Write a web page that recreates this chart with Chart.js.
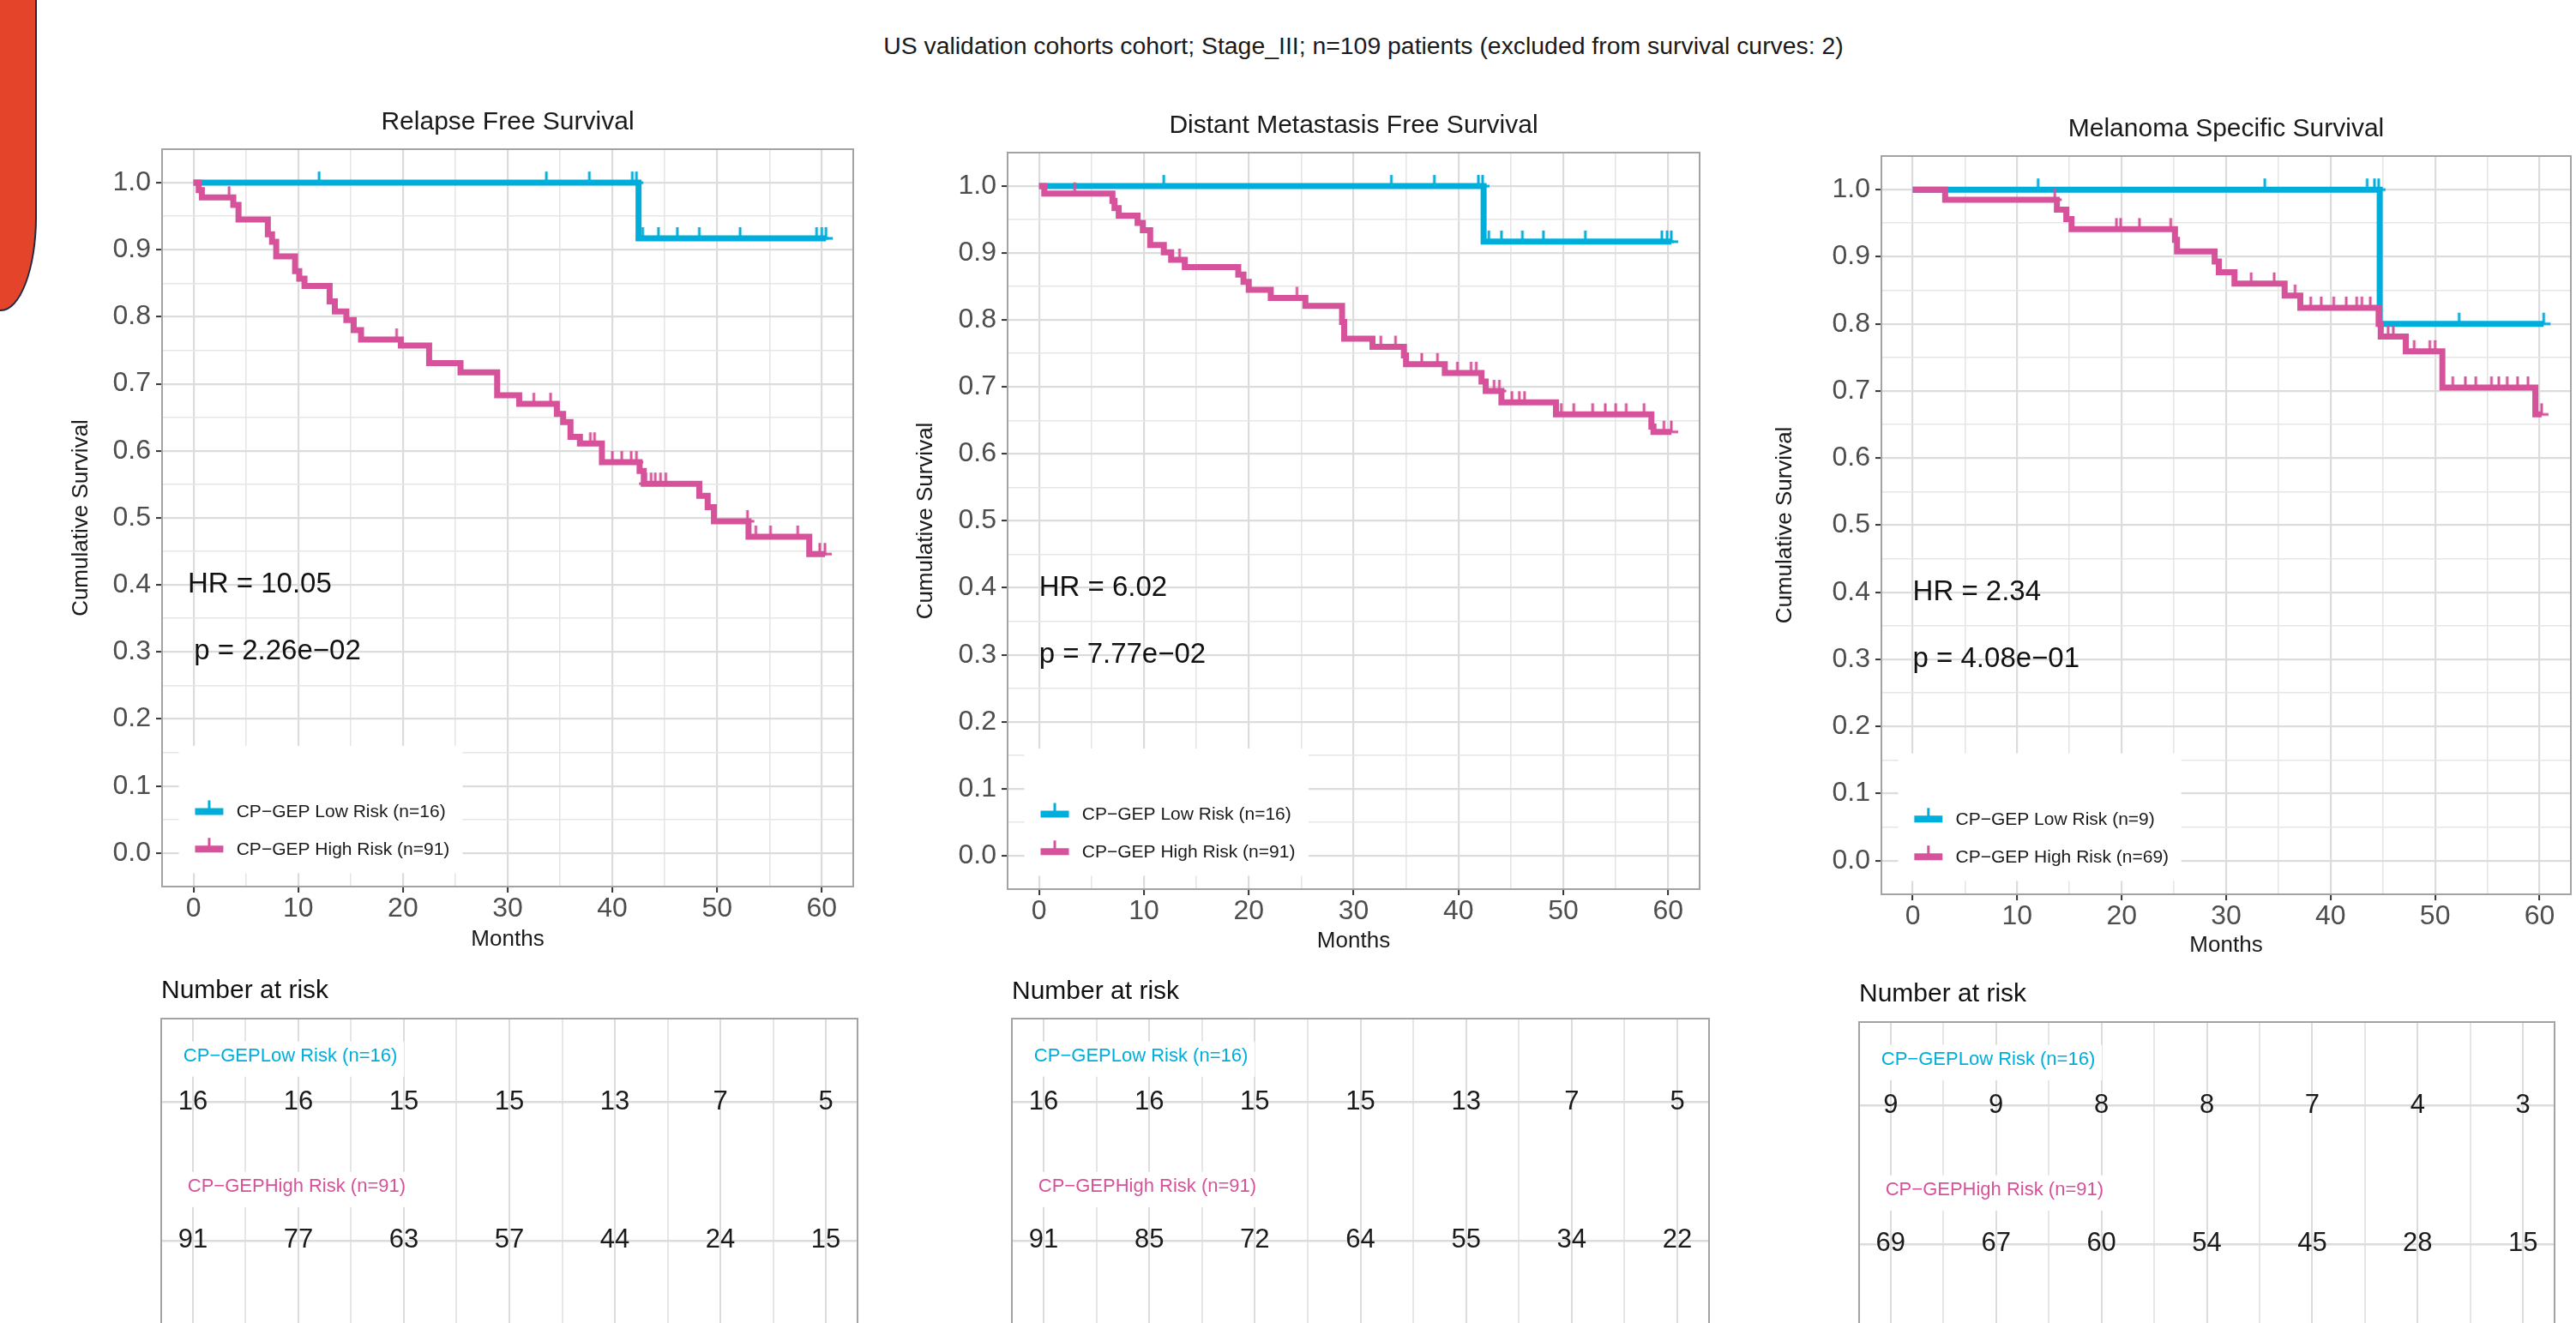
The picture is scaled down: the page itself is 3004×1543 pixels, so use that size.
<!DOCTYPE html>
<html>
<head>
<meta charset="utf-8">
<script src="https://cdn.jsdelivr.net/npm/chart.js@4.4.0/dist/chart.umd.min.js"></script>
<style>
html, body { margin:0; padding:0; background:#fff; }
body { width:3004px; height:1543px; position:relative; overflow:hidden; font-family:"Liberation Sans", Arial, sans-serif; }
canvas { position:absolute; }
#tab { position:absolute; left:0; top:0; width:41px; height:361px; background:#E4442A;
  border-right:2px solid #1E2A44; border-bottom:2px solid #1E2A44; border-bottom-right-radius:42px 110px; }
#mainTitle { position:absolute; left:990px; top:37px; width:1200px; text-align:center;
  font-size:28.4px; line-height:32px; color:#1a1a1a; white-space:nowrap; }
</style>
</head>
<body>
<div id="tab"></div>
<div id="mainTitle">US validation cohorts cohort; Stage_III; n=109 patients (excluded from survival curves: 2)</div>
<script>
// ---- data ----
var xTickLabels = ['0', '10', '20', '30', '40', '50', '60'];
var xGrid = [0, 5, 10, 15, 20, 25, 30, 35, 40, 45, 50, 55, 60];
var yTickLabels = ['0.0', '0.1', '0.2', '0.3', '0.4', '0.5', '0.6', '0.7', '0.8', '0.9', '1.0'];
var yGrid = [0, 0.05, 0.1, 0.15, 0.2, 0.25, 0.3, 0.35, 0.4, 0.45, 0.5, 0.55, 0.6, 0.65, 0.7, 0.75, 0.8, 0.85, 0.9, 0.95, 1];
var riskTimes = [0, 10, 20, 30, 40, 50, 60];

// Relapse Free Survival
var rfsLowTime = [0, 42.5, 60.4];
var rfsLowSurv = [1, 0.917, 0.917];
var rfsLowCens = [12.0, 33.7, 37.8, 41.9, 42.3, 42.9, 44.4, 46.2, 48.3, 52.2, 59.5, 60.0, 60.4];
var rfsHighTime = [0, 0.5, 0.8, 3.8, 4.3, 7.1, 7.5, 7.9, 9.7, 10.1, 10.6, 13.0, 13.5, 14.6, 15.3, 16.0, 19.8, 22.5, 25.5, 29.0, 31.1, 34.7, 35.3, 36.0, 36.9, 39.0, 42.6, 43.0, 48.3, 49.1, 49.7, 53.0, 58.8, 60.3];
var rfsHighSurv = [1, 0.989, 0.978, 0.967, 0.945, 0.923, 0.912, 0.890, 0.868, 0.857, 0.846, 0.823, 0.808, 0.795, 0.780, 0.766, 0.757, 0.731, 0.717, 0.683, 0.670, 0.655, 0.643, 0.621, 0.611, 0.583, 0.570, 0.551, 0.533, 0.516, 0.495, 0.472, 0.446, 0.446];
var rfsHighCens = [3.4, 19.4, 32.5, 34.1, 37.9, 38.3, 40.0, 40.9, 41.8, 42.3, 43.2, 43.7, 44.1, 44.6, 45.1, 52.9, 53.7, 55.1, 57.7, 59.8, 60.3];
var rfsRiskLow = [16, 16, 15, 15, 13, 7, 5];
var rfsRiskHigh = [91, 77, 63, 57, 44, 24, 15];

// Distant Metastasis Free Survival
var dmfsLowTime = [0, 42.4, 60.3];
var dmfsLowSurv = [1, 0.917, 0.917];
var dmfsLowCens = [11.9, 33.6, 37.7, 41.9, 42.3, 42.9, 44.1, 46.1, 48.1, 52.1, 59.4, 59.9, 60.3];
var dmfsHighTime = [0, 0.5, 7.0, 7.2, 7.6, 9.4, 9.9, 10.6, 11.9, 12.6, 13.9, 19.0, 19.5, 20.0, 22.1, 25.4, 28.9, 29.1, 31.8, 34.8, 35.0, 38.7, 42.2, 42.6, 44.1, 49.3, 58.4, 58.6, 60.3];
var dmfsHighSurv = [1, 0.989, 0.978, 0.967, 0.956, 0.945, 0.934, 0.912, 0.901, 0.890, 0.879, 0.868, 0.857, 0.845, 0.833, 0.821, 0.797, 0.772, 0.760, 0.747, 0.734, 0.721, 0.708, 0.694, 0.677, 0.659, 0.641, 0.633, 0.633];
var dmfsHighCens = [3.4, 13.4, 24.6, 32.6, 34.0, 36.5, 38.0, 39.9, 41.2, 41.7, 43.4, 43.9, 45.1, 45.8, 46.3, 49.8, 51.0, 52.8, 54.0, 55.0, 56.0, 57.7, 59.6, 60.3];
var dmfsRiskLow = [16, 16, 15, 15, 13, 7, 5];
var dmfsRiskHigh = [91, 85, 72, 64, 55, 34, 22];

// Melanoma Specific Survival
var mssLowTime = [0, 44.7, 60.4];
var mssLowSurv = [1, 0.8, 0.8];
var mssLowCens = [12.0, 33.7, 43.5, 44.2, 44.6, 52.3, 60.4];
var mssHighTime = [0, 3.1, 13.8, 14.7, 15.2, 25.1, 25.3, 28.9, 29.3, 30.8, 35.6, 37.1, 44.6, 44.8, 47.2, 50.7, 59.6, 60.2];
var mssHighSurv = [1, 0.985, 0.970, 0.956, 0.941, 0.925, 0.908, 0.893, 0.877, 0.860, 0.842, 0.824, 0.800, 0.781, 0.759, 0.705, 0.665, 0.665];
var mssHighCens = [13.6, 19.5, 19.9, 21.7, 24.7, 32.4, 34.6, 36.6, 38.1, 39.1, 40.3, 41.5, 42.5, 43.0, 43.8, 45.5, 46.0, 48.0, 49.5, 50.0, 51.7, 52.9, 53.9, 55.4, 56.1, 56.9, 57.9, 58.9, 60.2];
var mssRiskLow = [9, 9, 8, 8, 7, 4, 3];
var mssRiskHigh = [69, 67, 60, 54, 45, 28, 15];

var panelTitles = ['Relapse Free Survival', 'Distant Metastasis Free Survival', 'Melanoma Specific Survival'];
var hrTexts = ['HR = 10.05', 'HR = 6.02', 'HR = 2.34'];
var pTexts = ['p = 2.26e\u221202', 'p = 7.77e\u221202', 'p = 4.08e\u221201'];
var legendLow = ['CP\u2212GEP Low Risk (n=16)', 'CP\u2212GEP Low Risk (n=16)', 'CP\u2212GEP Low Risk (n=9)'];
var legendHigh = ['CP\u2212GEP High Risk (n=91)', 'CP\u2212GEP High Risk (n=91)', 'CP\u2212GEP High Risk (n=69)'];
var riskRowLow = 'CP\u2212GEPLow Risk (n=16)';
var riskRowHigh = 'CP\u2212GEPHigh Risk (n=91)';

// ---- styles / layout ----
var CYAN = '#00AEDB';
var PINK = '#D6529A';
var MAJOR = '#DCDCDC';
var MINOR = '#E6E6E6';
var FRAME = '#A3A3A3';
var FONT = '"Liberation Sans", Arial, sans-serif';
var LINE_W = 7;
Chart.defaults.font.family = FONT;

// chart area edges (page pixels) for each panel
var kmBox = [
  {L: 189, T: 174, R: 1001, B: 1034, yTitleX: 95, monthsY: 1096, hrX: -0.55, pX: 0.05},
  {L: 1175, T: 178, R: 1988, B: 1037, yTitleX: 1080, monthsY: 1098, hrX: 0, pX: 0},
  {L: 2194, T: 182, R: 3004, B: 1043, yTitleX: 2082, monthsY: 1103, hrX: 0, pX: 0}
];
var riskBox = [
  {L: 188, T: 1188, R: 1000, titleY: 1156},
  {L: 1180, T: 1188, R: 1993, titleY: 1157},
  {L: 2168, T: 1192, R: 2979, titleY: 1160}
];

function stepPoints(times, surv) {
  return times.map(function (t, i) { return {x: t, y: surv[i]}; });
}
function survAt(times, surv, t) {
  var s = surv[0];
  for (var i = 0; i < times.length; i++) { if (times[i] <= t) s = surv[i]; }
  return s;
}
function censorPoints(cens, times, surv) {
  return cens.map(function (t) { return {x: t, y: survAt(times, surv, t)}; });
}
// censor mark: "+" whose lower half sits inside the thick line
function censorImg(color) {
  var c = document.createElement('canvas');
  c.width = 18; c.height = 28;
  var g = c.getContext('2d');
  g.strokeStyle = color; g.lineWidth = 3;
  g.beginPath(); g.moveTo(9, 1); g.lineTo(9, 14); g.moveTo(1, 14); g.lineTo(17, 14); g.stroke();
  return c;
}

function addCanvas(left, top, w, h) {
  var cv = document.createElement('canvas');
  cv.width = w; cv.height = h;
  cv.style.left = left + 'px'; cv.style.top = top + 'px';
  cv.style.width = w + 'px'; cv.style.height = h + 'px';
  document.body.appendChild(cv);
  return cv;
}

function gridStyle() {
  return {
    color: function (c) { return c.index % 2 ? MINOR : MAJOR; },
    lineWidth: function (c) { return c.index % 2 ? 1.6 : 2.2; },
    tickColor: function (c) { return c.index % 2 ? 'rgba(0,0,0,0)' : '#333333'; },
    tickLength: 7,
    tickWidth: 2
  };
}

function frame(chart) {
  var a = chart.chartArea, ctx = chart.ctx;
  ctx.save();
  ctx.strokeStyle = FRAME; ctx.lineWidth = 2;
  ctx.strokeRect(a.left, a.top, a.right - a.left, a.bottom - a.top);
  ctx.restore();
}

function kmDecor(k) {
  return {
    id: 'kmDecor',
    beforeDatasetsDraw: function (chart) {
      var ctx = chart.ctx, x = chart.scales.x, y = chart.scales.y;
      ctx.save();
      // legend box
      var x0 = x.getPixelForValue(-1.4), x1 = x.getPixelForValue(25.7);
      var y0 = y.getPixelForValue(0.16), y1 = y.getPixelForValue(-0.03);
      ctx.fillStyle = '#fff';
      ctx.fillRect(x0, y0, x1 - x0, y1 - y0);
      var items = [[legendLow[k], CYAN, 0.062], [legendHigh[k], PINK, 0.006]];
      ctx.font = '21px ' + FONT;
      ctx.textBaseline = 'middle';
      items.forEach(function (it) {
        var py = y.getPixelForValue(it[2]);
        var a = x.getPixelForValue(0.15), b = x.getPixelForValue(2.85), m = (a + b) / 2;
        ctx.strokeStyle = it[1];
        ctx.lineWidth = 8;
        ctx.beginPath(); ctx.moveTo(a, py); ctx.lineTo(b, py); ctx.stroke();
        ctx.lineWidth = 3;
        ctx.beginPath(); ctx.moveTo(m, py - 13); ctx.lineTo(m, py); ctx.stroke();
        ctx.fillStyle = '#1a1a1a';
        ctx.fillText(it[0], x.getPixelForValue(4.1), py + 1);
      });
      ctx.restore();
    },
    afterDatasetsDraw: function (chart) {
      var ctx = chart.ctx, x = chart.scales.x, y = chart.scales.y, b = kmBox[k];
      ctx.save();
      ctx.font = '33px ' + FONT;
      ctx.fillStyle = '#111';
      ctx.textBaseline = 'middle';
      ctx.fillText(hrTexts[k], x.getPixelForValue(b.hrX), y.getPixelForValue(0.4));
      ctx.fillText(pTexts[k], x.getPixelForValue(b.pX), y.getPixelForValue(0.3));
      ctx.restore();
    },
    afterDraw: frame
  };
}

function makeKm(k, d) {
  var b = kmBox[k];
  var left = b.yTitleX - 13, top = b.T - 49, right = b.R + 4, bottom = b.monthsY + 13;
  var cv = addCanvas(left, top, right - left, bottom - top);
  new Chart(cv, {
    type: 'scatter',
    data: {
      datasets: [
        {data: censorPoints(d.hc, d.ht, d.hs), pointStyle: censorImg(PINK), pointRadius: 9, order: 0},
        {data: censorPoints(d.lc, d.lt, d.ls), pointStyle: censorImg(CYAN), pointRadius: 9, order: 1},
        {type: 'line', data: stepPoints(d.ht, d.hs), stepped: true, borderColor: PINK, borderWidth: LINE_W,
          pointRadius: 0, fill: false, borderJoinStyle: 'miter', order: 2},
        {type: 'line', data: stepPoints(d.lt, d.ls), stepped: true, borderColor: CYAN, borderWidth: LINE_W,
          pointRadius: 0, fill: false, borderJoinStyle: 'miter', order: 3}
      ]
    },
    options: {
      responsive: false, animation: false, devicePixelRatio: 1,
      layout: {padding: {left: 0, top: 0, right: 4, bottom: 0}},
      plugins: {
        legend: {display: false}, tooltip: {enabled: false},
        title: {display: true, text: panelTitles[k], fullSize: false, color: '#1a1a1a',
          font: {size: 30, weight: 'normal'}, padding: {top: 0, bottom: 13}}
      },
      scales: {
        x: {
          type: 'linear', min: -3, max: 63,
          afterBuildTicks: function (s) { s.ticks = xGrid.map(function (v) { return {value: v}; }); },
          afterFit: function (s) { s.height = bottom - b.B; },
          ticks: {autoSkip: false, maxRotation: 0, padding: 3, color: '#4D4D4D', font: {size: 32, lineHeight: 1},
            callback: function (v, i) { return i % 2 ? '' : xTickLabels[i / 2]; }},
          grid: gridStyle(),
          border: {display: false},
          title: {display: true, text: 'Months', color: '#1a1a1a', font: {size: 26, lineHeight: 1}, padding: 0}
        },
        y: {
          type: 'linear', min: -0.05, max: 1.05,
          afterBuildTicks: function (s) { s.ticks = yGrid.map(function (v) { return {value: v}; }); },
          afterFit: function (s) { s.width = b.L - left; },
          ticks: {autoSkip: false, padding: 6, color: '#4D4D4D', font: {size: 32, lineHeight: 1},
            callback: function (v, i) { return i % 2 ? '' : yTickLabels[i / 2]; }},
          grid: gridStyle(),
          border: {display: false},
          title: {display: true, text: 'Cumulative Survival', color: '#1a1a1a', font: {size: 26, lineHeight: 1}, padding: 0}
        }
      }
    },
    plugins: [kmDecor(k)]
  });
}

function riskDecor() {
  return {
    id: 'riskDecor',
    beforeDatasetsDraw: function (chart) {
      var ctx = chart.ctx, x = chart.scales.x, y = chart.scales.y;
      ctx.save();
      ctx.font = '22px ' + FONT;
      ctx.textBaseline = 'middle';
      [[riskRowLow, CYAN, -0.9, 2.33], [riskRowHigh, PINK, -0.5, 1.39]].forEach(function (r) {
        var px = x.getPixelForValue(r[2]), py = y.getPixelForValue(r[3]);
        var w = ctx.measureText(r[0]).width;
        ctx.fillStyle = '#fff';
        ctx.fillRect(px - 20, py - 17, w + 28, 41);
        ctx.fillStyle = r[1];
        ctx.fillText(r[0], px, py);
      });
      ctx.restore();
    },
    afterDatasetsDraw: function (chart) {
      var ctx = chart.ctx;
      ctx.save();
      ctx.font = '31px ' + FONT;
      ctx.fillStyle = '#1a1a1a';
      ctx.textAlign = 'center';
      ctx.textBaseline = 'middle';
      chart.data.datasets.forEach(function (ds, i) {
        chart.getDatasetMeta(i).data.forEach(function (pt, j) {
          ctx.fillText(String(ds.data[j].n), pt.x, pt.y);
        });
      });
      ctx.restore();
    },
    afterDraw: frame
  };
}

function makeRisk(k, low, high) {
  var b = riskBox[k];
  var B = b.T + 356;
  var left = b.L - 4, top = b.titleY - 18, right = b.R + 4, bottom = B + 4;
  var cv = addCanvas(left, top, right - left, bottom - top);
  new Chart(cv, {
    type: 'scatter',
    data: {
      datasets: [
        {data: riskTimes.map(function (t, i) { return {x: t, y: 2, n: low[i]}; }), pointRadius: 0},
        {data: riskTimes.map(function (t, i) { return {x: t, y: 1, n: high[i]}; }), pointRadius: 0}
      ]
    },
    options: {
      responsive: false, animation: false, devicePixelRatio: 1,
      layout: {padding: {left: 4, top: 0, right: 4, bottom: 4}},
      plugins: {
        legend: {display: false}, tooltip: {enabled: false},
        title: {display: true, text: 'Number at risk', align: 'start', fullSize: false, color: '#111',
          font: {size: 30, weight: 'normal'}, padding: {top: 0, bottom: b.T - top - 36}}
      },
      scales: {
        x: {
          type: 'linear', min: -3, max: 63,
          afterBuildTicks: function (s) { s.ticks = xGrid.map(function (v) { return {value: v}; }); },
          afterFit: function (s) { s.height = 0; },
          ticks: {display: false},
          grid: {color: function (c) { return c.index % 2 ? MINOR : MAJOR; }, lineWidth: 2, drawTicks: false},
          border: {display: false}
        },
        y: {
          type: 'linear', min: 0.4, max: 2.6,
          afterBuildTicks: function (s) { s.ticks = [{value: 1}, {value: 2}]; },
          afterFit: function (s) { s.width = 0; },
          ticks: {display: false},
          grid: {color: MAJOR, lineWidth: 2.5, drawTicks: false},
          border: {display: false}
        }
      }
    },
    plugins: [riskDecor()]
  });
}

makeKm(0, {lt: rfsLowTime, ls: rfsLowSurv, lc: rfsLowCens, ht: rfsHighTime, hs: rfsHighSurv, hc: rfsHighCens});
makeKm(1, {lt: dmfsLowTime, ls: dmfsLowSurv, lc: dmfsLowCens, ht: dmfsHighTime, hs: dmfsHighSurv, hc: dmfsHighCens});
makeKm(2, {lt: mssLowTime, ls: mssLowSurv, lc: mssLowCens, ht: mssHighTime, hs: mssHighSurv, hc: mssHighCens});
makeRisk(0, rfsRiskLow, rfsRiskHigh);
makeRisk(1, dmfsRiskLow, dmfsRiskHigh);
makeRisk(2, mssRiskLow, mssRiskHigh);
</script>
</body>
</html>
